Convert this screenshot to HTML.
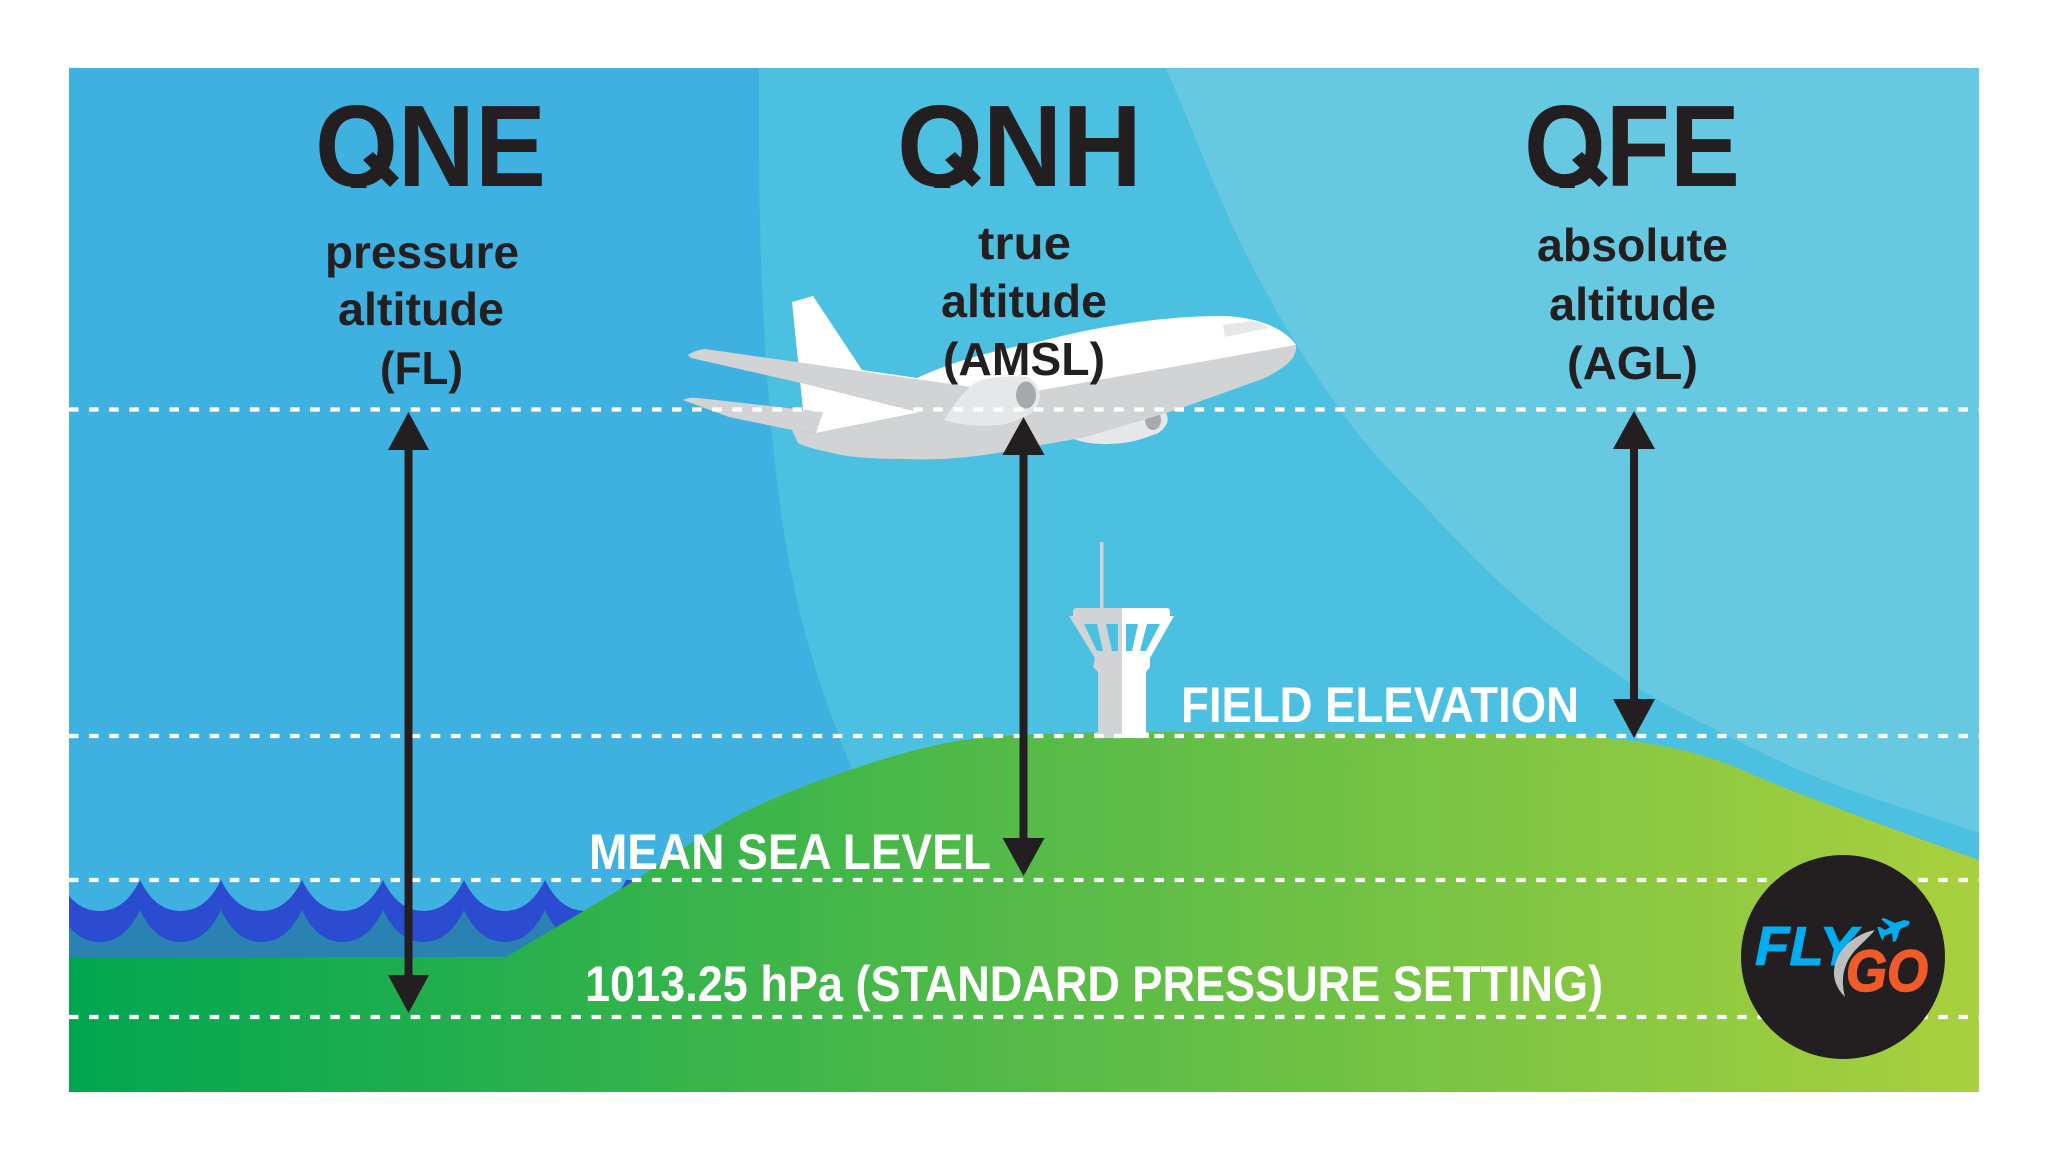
<!DOCTYPE html>
<html><head><meta charset="utf-8"><title>QNE QNH QFE</title>
<style>html,body{margin:0;padding:0;background:#fff}svg{display:block}
text{font-family:"Liberation Sans",sans-serif;font-weight:700}</style></head>
<body>
<svg xmlns="http://www.w3.org/2000/svg" width="2048" height="1161" viewBox="0 0 2048 1161">
<defs>
<clipPath id="p"><rect x="69" y="68" width="1910" height="1024"/></clipPath>
<clipPath id="t"><rect x="200" y="80" width="1700" height="108"/></clipPath>
<linearGradient id="g" gradientUnits="userSpaceOnUse" x1="69" y1="0" x2="1979" y2="0">
<stop offset="0" stop-color="#00a651"/><stop offset="1" stop-color="#a9d03e"/></linearGradient>
</defs>
<rect width="2048" height="1161" fill="#fff"/>
<g clip-path="url(#p)">
<rect x="69" y="68" width="1910" height="1024" fill="#3fb1e0"/>
<path fill="#4cc0e0" d="M759,68 C759,130 759,200 761,260 C764,350 771,440 782,520 C790,570 800,620 813,660 C825,700 840,740 860,790 L1979,900 L1979,68 Z"/>
<path fill="#67c8e1" d="M1166,68 C1194,132 1220,203 1249,260 C1278,317 1310,368 1340,410 C1370,452 1400,481 1431,513 C1461,545 1490,575 1523,603 C1556,631 1597,661 1629,682 C1661,703 1682,713 1716,730 C1750,747 1787,766 1831,783 C1875,800 1930,816 1979,833 L1979,68 Z"/>
<!-- water -->
<rect x="69" y="880" width="560" height="78" fill="#2a82b2"/>
<path fill="#2b4bd1" d="M59,880 L640,880 L626,910 q-15,32 -40.5,32 q-25.5,0 -40.5,-32 q-15,32 -40.5,32 q-25.5,0 -40.5,-32 q-15,32 -40.5,32 q-25.5,0 -40.5,-32 q-15,32 -40.5,32 q-25.5,0 -40.5,-32 q-15,32 -40.5,32 q-25.5,0 -40.5,-32 q-15,32 -40.5,32 q-25.5,0 -40.5,-32 q-15,32 -40.5,32 q-25.5,0 -40.5,-32 Z"/>
<path fill="#3fb1e0" d="M59,870 L626,870 L626,880 q-15,31 -40.5,31 q-25.5,0 -40.5,-31 q-15,31 -40.5,31 q-25.5,0 -40.5,-31 q-15,31 -40.5,31 q-25.5,0 -40.5,-31 q-15,31 -40.5,31 q-25.5,0 -40.5,-31 q-15,31 -40.5,31 q-25.5,0 -40.5,-31 q-15,31 -40.5,31 q-25.5,0 -40.5,-31 q-15,31 -40.5,31 q-25.5,0 -40.5,-31 Z"/>
<!-- hill -->
<path fill="url(#g)" d="M69,957 L506,957 L629,884 C665,861 700,835.500 735,817 C770,798.500 806,785 841,773 C876,761 913,749.500 946,743 C979,736.500 1005,736 1040,734 C1075,732 1120,732 1156,732 C1300,732 1480,732 1577,736 C1620,738 1658,744 1693,753 C1728,762 1754,776 1785,788 C1816,800 1845,811 1877,823 C1909,835 1945,848 1979,860 L1979,1092 L69,1092 Z"/>
<!-- tower -->
<rect x="1100" y="542" width="3.5" height="68" fill="#d1d3d4"/>
<path fill="#d1d3d4" d="M1122,608 L1076,608 Q1073,608 1073,612 L1073,616 L1069,616 L1095,658 L1093,667 L1098,672 L1098,732 L1094,733 L1094,738 L1122,738 Z"/>
<path fill="#fff" d="M1122,608 L1167,608 Q1170,608 1170,612 L1170,616 L1174,616 L1150,658 L1150,667 L1146,672 L1146,732 L1149,733 L1149,738 L1122,738 Z"/>
<path fill="#4cc0e0" d="M1084,624 L1097,624 L1103,651 L1097,651 Z M1106,624 L1118,624 L1118,651 L1112,651 Z M1126,624 L1138,624 L1132,651 L1126,651 Z M1147,624 L1160,624 L1146,651 L1140,651 Z"/>
<!-- plane -->
<path fill="#e6e7e8" d="M1071,438 L1165,410 Q1169,418 1167,423 Q1162,433 1153,435 Q1130,444 1109,444 Q1088,445 1071,438 Z"/>
<ellipse cx="1153" cy="420" rx="8" ry="10" fill="#a7a9ac"/>
<path fill="#fff" d="M792,302 L813,296 L862,370 L917,378 C960,358 1000,350 1042,341 C1090,328 1160,316 1220,316 C1255,316 1285,328 1296,345 L1042,392 L921,412 L816,433 L803,410 Z"/>
<path fill="#d1d3d4" d="M1296,345 C1297,358 1288,366 1265,378 L1176,410 L1086,437 L997,453 C960,459 930,460 908,459 C880,459 860,458 841,455 C825,451 810,449 798,443 L792,430 L816,433 L921,412 L1042,390 Z"/>
<path fill="#d1d3d4" d="M683,400 Q688,397 698,398 L823,412 L816,433 L792,430 L729,417 Z"/>
<path fill="#d1d3d4" d="M688,355 Q695,350 705,349 L979,388 L952,420 L917,412 L801,383 L691,358 Z"/>
<path fill="#e6e7e8" d="M944,420 C955,402 965,390 975,383 C985,377 1010,375 1028,377 Q1040,385 1040,397 Q1038,410 1028,415 C1015,422 1005,425 997,425 C980,427 960,425 944,420 Z"/>
<ellipse cx="1026" cy="395" rx="10" ry="13.5" fill="#a7a9ac"/>
<path fill="#e6e7e8" d="M1223,325 L1252,321 Q1262,323 1269,328 L1225,337 Z"/>
<!-- dashed lines -->
<g stroke="#fff" stroke-width="4.200" stroke-dasharray="9.500 10.600" fill="none">
<path d="M69,409.500 H1979"/><path d="M69,736 H1979"/><path d="M69,880 H1979"/><path d="M69,1017 H1979"/>
</g>
<!-- logo -->
<circle cx="1843" cy="957" r="102" fill="#231f20"/>
<text x="1755" y="965" font-size="55" font-style="italic" fill="#00aeef" stroke="#00aeef" stroke-width="1" textLength="102" lengthAdjust="spacingAndGlyphs">FLY</text>
<text x="1846" y="991" font-size="58" font-style="italic" fill="#f15a29" stroke="#f15a29" stroke-width="1.500" textLength="82" lengthAdjust="spacingAndGlyphs">GO</text>
<path fill="#bcbec0" d="M1875,930 C1850,935 1833,955 1834,975 C1835,985 1840,992 1845,997 C1842,985 1842,975 1846,965 C1852,950 1862,945 1875,930 Z"/>
<path fill="#00aeef" d="M1909,921 Q1911,924 1907,926 L1900,929 L1896,941 L1893,942 L1892,933 L1884,936 L1883,941 L1881,938 L1877,927 L1880,927 L1885,930 L1890,927 L1881,919 L1884,918 L1895,923 L1904,920 Z"/>
</g>
<!-- arrows -->
<g fill="#231f20">
<rect x="404.500" y="440" width="8" height="545"/>
<path d="M408.500,412 L429,450 L388,450 Z"/><path d="M408.500,1013 L388,975 L429,975 Z"/>
<rect x="1019.500" y="445" width="8" height="400"/>
<path d="M1023.500,417 L1044.500,455 L1002.500,455 Z"/><path d="M1023.500,876 L1002.500,838 L1044.500,838 Z"/>
<rect x="1630" y="440" width="8" height="270"/>
<path d="M1634,411 L1655,449 L1613,449 Z"/><path d="M1634,738 L1613,699 L1655,699 Z"/>
</g>
<!-- titles -->
<g fill="#231f20">
<g clip-path="url(#t)">
<text x="315" y="186" font-size="116" textLength="231" lengthAdjust="spacingAndGlyphs">QNE</text>
<text x="897" y="186" font-size="116" textLength="245" lengthAdjust="spacingAndGlyphs">QNH</text>
<text x="1524" y="186" font-size="116" textLength="216" lengthAdjust="spacingAndGlyphs">QFE</text>
</g>
<path d="M363,160 L373,152 L399,178 L390,187 Z"/>
<path d="M945,160 L955,152 L981,178 L972,187 Z"/>
<path d="M1572,160 L1582,152 L1608,178 L1599,187 Z"/>
<g font-size="46">
<text x="325" y="268" textLength="194" lengthAdjust="spacingAndGlyphs">pressure</text>
<text x="338" y="325" textLength="166" lengthAdjust="spacingAndGlyphs">altitude</text>
<text x="380" y="384" textLength="83" lengthAdjust="spacingAndGlyphs">(FL)</text>
<text x="978" y="259" textLength="93" lengthAdjust="spacingAndGlyphs">true</text>
<text x="941" y="317" textLength="166" lengthAdjust="spacingAndGlyphs">altitude</text>
<text x="943" y="375" textLength="162" lengthAdjust="spacingAndGlyphs">(AMSL)</text>
<text x="1537" y="261" textLength="191" lengthAdjust="spacingAndGlyphs">absolute</text>
<text x="1549" y="320" textLength="167" lengthAdjust="spacingAndGlyphs">altitude</text>
<text x="1567" y="379" textLength="131" lengthAdjust="spacingAndGlyphs">(AGL)</text>
</g></g>
<g fill="#fff" font-size="50">
<text x="1181" y="722" textLength="398" lengthAdjust="spacingAndGlyphs">FIELD ELEVATION</text>
<text x="589" y="869" textLength="402" lengthAdjust="spacingAndGlyphs">MEAN SEA LEVEL</text>
<text x="585" y="1001" textLength="1018" lengthAdjust="spacingAndGlyphs">1013.25 hPa (STANDARD PRESSURE SETTING)</text>
</g>
</svg>
</body></html>
